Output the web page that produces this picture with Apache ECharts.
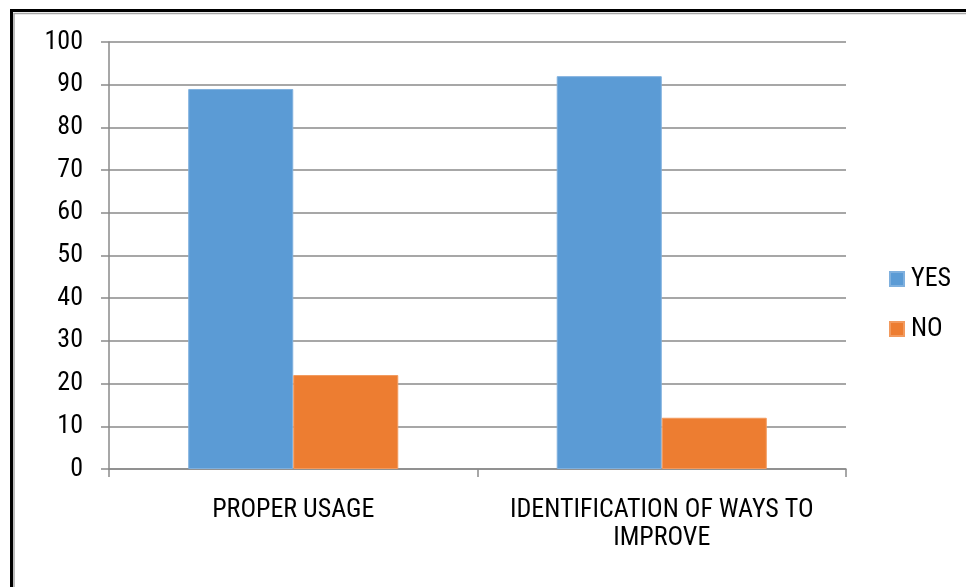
<!DOCTYPE html>
<html>
<head>
<meta charset="utf-8">
<title>YES / NO responses</title>
<script src="https://cdn.jsdelivr.net/npm/echarts@6/dist/echarts.min.js"></script>
<style>
  html, body { margin: 0; padding: 0; background: #fff; }
  #chart { width: 966px; height: 587px; }
</style>
</head>
<body>
<div id="chart"></div>
<script>
// Survey categories and answers
const categories = ['PROPER USAGE', 'IDENTIFICATION OF WAYS TO\nIMPROVE'];
const yesValues = [89, 92];
const noValues = [22, 12];
const yTicks = [0, 10, 20, 30, 40, 50, 60, 70, 80, 90, 100];

const FONT = "'Liberation Sans Narrow', 'Arial Narrow', 'Roboto Condensed', 'Liberation Sans', sans-serif";
const AXIS_GREY = '#8a8a8a';

const chart = echarts.init(document.getElementById('chart'), null, { renderer: 'canvas' });

chart.setOption({
  backgroundColor: '#ffffff',
  animation: false,
  textStyle: { fontFamily: FONT, color: '#000' },
  graphic: [
    // outer frame (left and top edges): thick black line with a thin grey line inside
    { type: 'polyline', shape: { points: [[11.5, 600], [11.5, 10.5], [980, 10.5]] },
      style: { fill: null, stroke: '#000', lineWidth: 3 }, silent: true },
    { type: 'polyline', shape: { points: [[14, 600], [14, 13.5], [980, 13.5]] },
      style: { fill: null, stroke: '#a6a6a6', lineWidth: 1.5 }, silent: true }
  ],
  grid: { left: 109, right: 120, top: 42, bottom: 118, containLabel: false },
  legend: {
    orient: 'vertical',
    left: 889,
    top: 266,
    padding: 0,
    itemWidth: 14,
    itemHeight: 14,
    itemGap: 24,
    icon: 'rect',
    textStyle: { fontFamily: FONT, fontSize: 26, color: '#000', lineHeight: 26, padding: [0, 0, 0, 2] },
    data: ['YES', 'NO']
  },
  xAxis: {
    type: 'category',
    data: categories,
    axisLine: { show: true, lineStyle: { color: AXIS_GREY, width: 1.5 } },
    axisTick: { show: true, length: 8, alignWithLabel: false, lineStyle: { color: AXIS_GREY, width: 1.5 } },
    axisLabel: {
      margin: 27,
      interval: 0,
      fontFamily: FONT,
      fontSize: 26,
      lineHeight: 28,
      color: '#000',
      align: 'center'
    },
    splitLine: { show: false }
  },
  yAxis: {
    type: 'value',
    min: yTicks[0],
    max: yTicks[yTicks.length - 1],
    interval: 10,
    axisLine: { show: true, lineStyle: { color: AXIS_GREY, width: 1.5 } },
    axisTick: { show: true, length: 8, inside: false, lineStyle: { color: AXIS_GREY, width: 1.5 } },
    axisLabel: { margin: 26, fontFamily: FONT, fontSize: 26, color: '#000' },
    splitLine: { show: true, lineStyle: { color: AXIS_GREY, width: 1.5 } }
  },
  series: [
    {
      name: 'YES',
      type: 'bar',
      data: yesValues,
      barGap: '0%',
      barCategoryGap: '43%',
      itemStyle: { color: '#5B9BD5', borderColor: '#7fb0de', borderWidth: 1 }
    },
    {
      name: 'NO',
      type: 'bar',
      data: noValues,
      barGap: '0%',
      barCategoryGap: '43%',
      itemStyle: { color: '#ED7D31', borderColor: '#f29a5e', borderWidth: 1 }
    }
  ]
});
</script>
</body>
</html>
